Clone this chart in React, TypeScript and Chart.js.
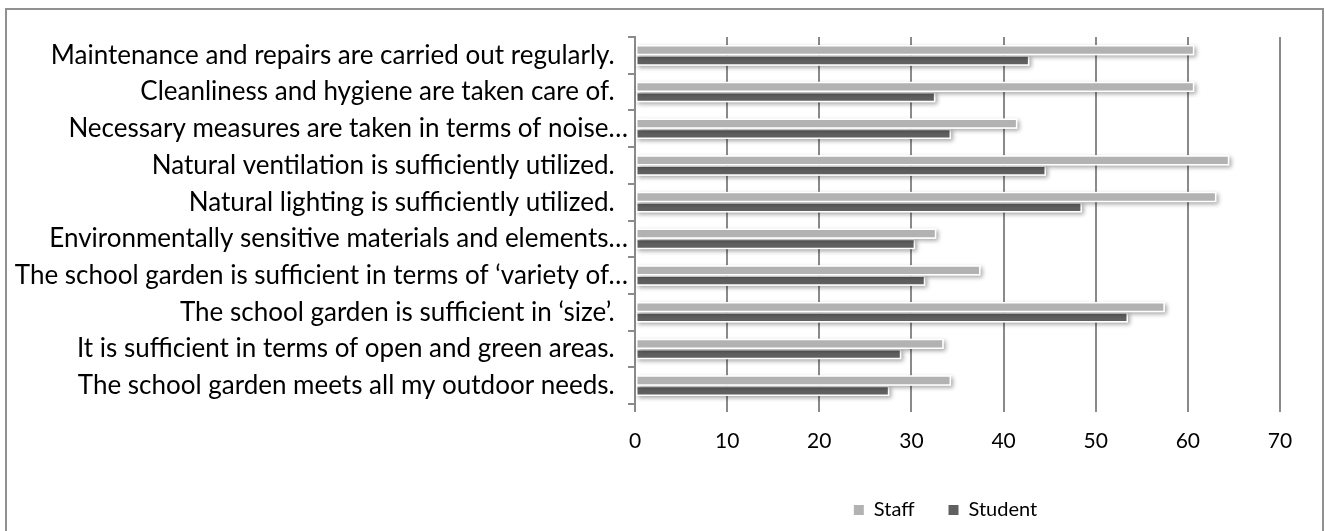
import React, { useEffect, useRef } from "react";
import { Chart, registerables } from "chart.js";

Chart.register(...registerables);

const categories = [
  "Maintenance and repairs are carried out regularly.",
  "Cleanliness and hygiene are taken care of.",
  "Necessary measures are taken in terms of noise…",
  "Natural ventilation is sufficiently utilized.",
  "Natural lighting is sufficiently utilized.",
  "Environmentally sensitive materials and elements…",
  "The school garden is sufficient in terms of ‘variety of…",
  "The school garden is sufficient in ‘size’.",
  "It is sufficient in terms of open and green areas.",
  "The school garden meets all my outdoor needs.",
];

const staffValues = [60.7, 60.7, 41.5, 64.5, 63.1, 32.7, 37.5, 57.5, 33.5, 34.3];
const studentValues = [42.8, 32.6, 34.3, 44.6, 48.5, 30.4, 31.5, 53.5, 28.9, 27.6];

const seriesNames = ["Staff", "Student"];
const seriesColors = ["#b2b2b2", "#606060"];

const xMin = 0;
const xMax = 70;
const xStep = 10;

const FONT = "Lato";

const shadowPlugin = {
  id: "barShadow",
  beforeDatasetDraw(chart: any, args: any) {
    const meta = chart.getDatasetMeta(args.index);
    const ctx = chart.ctx;
    ctx.save();
    ctx.shadowColor = "rgba(0,0,0,0.35)";
    ctx.shadowBlur = 4;
    ctx.shadowOffsetX = 2;
    ctx.shadowOffsetY = 2;
    ctx.fillStyle = "#ffffff";
    meta.data.forEach((bar: any) => {
      const p = bar.getProps(["x", "y", "base", "height"], true);
      ctx.fillRect(Math.min(p.base, p.x), p.y - p.height / 2, Math.abs(p.x - p.base), p.height);
    });
    ctx.restore();
  },
};

const legendShiftPlugin = {
  id: "legendShift",
  afterLayout(chart: any) {
    if (chart.legend) {
      chart.legend.left -= 12;
      chart.legend.right -= 12;
    }
  },
};

export default function App() {
  const canvasRef = useRef<HTMLCanvasElement | null>(null);

  useEffect(() => {
    if (!canvasRef.current) return;
    Chart.defaults.color = "#000000";
    const chart = new Chart(canvasRef.current, {
      type: "bar",
      data: {
        labels: categories,
        datasets: [
          {
            label: seriesNames[0],
            data: staffValues,
            backgroundColor: seriesColors[0],
            borderColor: "#ffffff",
            borderWidth: 1.5,
            borderSkipped: false,
            categoryPercentage: 0.56,
            barPercentage: 1.0,
          },
          {
            label: seriesNames[1],
            data: studentValues,
            backgroundColor: seriesColors[1],
            borderColor: "#ffffff",
            borderWidth: 1.5,
            borderSkipped: false,
            categoryPercentage: 0.56,
            barPercentage: 1.0,
          },
        ],
      },
      options: {
        indexAxis: "y",
        responsive: false,
        animation: false,
        devicePixelRatio: 1,
        layout: { padding: { left: 0, right: 45, top: 37, bottom: 1 } },
        scales: {
          x: {
            min: xMin,
            max: xMax,
            ticks: {
              stepSize: xStep,
              padding: 17,
              color: "#000000",
              font: { family: FONT, size: 21 },
            },
            grid: {
              color: "#8a8a8a",
              lineWidth: 2,
              tickLength: 8,
              drawTicks: true,
            },
            border: { display: false },
            afterFit: (scale: any) => {
              scale.height = 62;
            },
          },
          y: {
            ticks: {
              padding: 0,
              color: "#000000",
              font: { family: FONT, size: 26 },
              autoSkip: false,
              callback: function (this: any, value: any) {
                const label = String(this.getLabelForValue(value));
                return label.endsWith("…") ? label : label + "  ";
              },
            },
            grid: {
              drawOnChartArea: false,
              color: "#8a8a8a",
              lineWidth: 2,
              tickLength: 7,
              offset: true,
            },
            border: { display: true, color: "#8a8a8a", width: 2 },
            afterFit: (scale: any) => {
              scale.width = 635;
            },
          },
        },
        plugins: {
          legend: {
            position: "bottom",
            fullSize: false,
            labels: {
              boxWidth: 10,
              boxHeight: 10,
              padding: 34,
              color: "#000000",
              font: { family: FONT, size: 20 },
              generateLabels: (c: any) => {
                const items = (Chart.defaults.plugins.legend.labels as any).generateLabels(c);
                items.forEach((it: any) => {
                  it.lineWidth = 0;
                  it.strokeStyle = it.fillStyle;
                });
                return items;
              },
            },
          },
          tooltip: { enabled: false },
        },
      },
      plugins: [shadowPlugin, legendShiftPlugin],
    });
    return () => chart.destroy();
  }, []);

  return (
    <div style={{ position: "absolute", left: 0, top: 0, width: 1325, height: 531, overflow: "hidden", background: "#fff" }}>
      <div
        style={{
          position: "absolute",
          left: 5,
          top: 8,
          width: 1319,
          height: 540,
          border: "2px solid #909090",
          boxSizing: "border-box",
        }}
      />
      <canvas
        ref={canvasRef}
        width={1325}
        height={531}
        style={{ position: "absolute", left: 0, top: 0, width: 1325, height: 531 }}
      />
    </div>
  );
}
